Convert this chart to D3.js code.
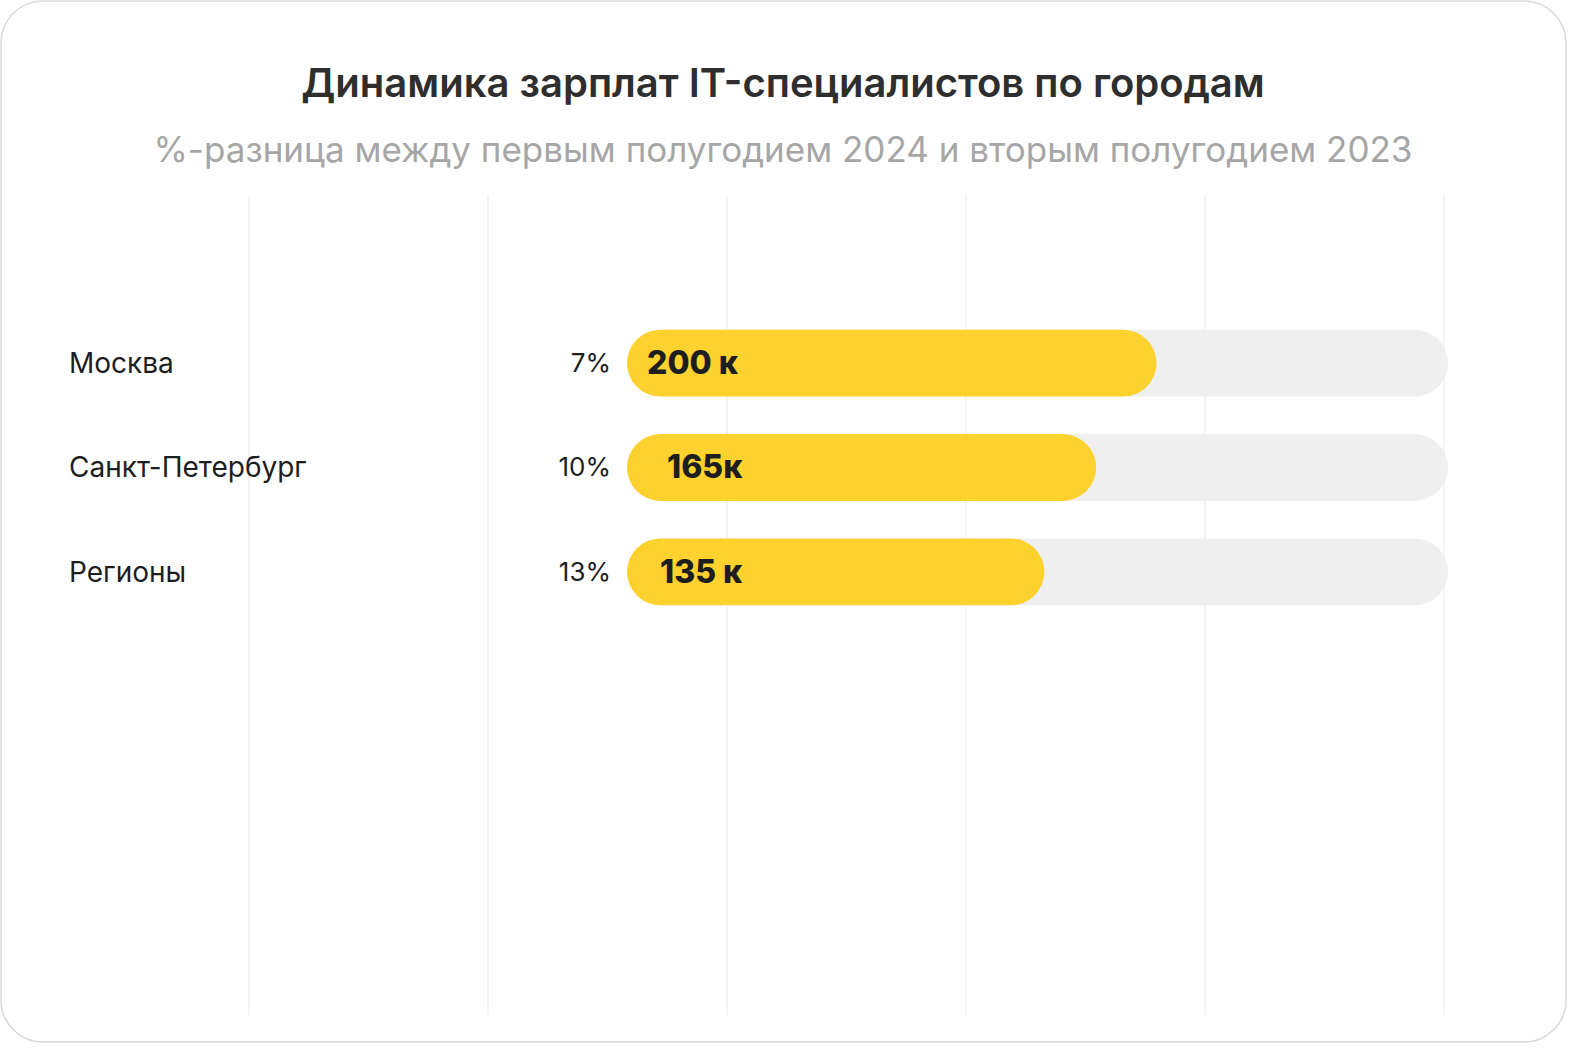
<!DOCTYPE html>
<html>
<head>
<meta charset="utf-8">
<script src="https://cdn.jsdelivr.net/npm/d3@7"></script>
<style>
  html, body { margin: 0; padding: 0; background: #fff; }
  svg { display: block; font-family: Inter, "Noto Sans", sans-serif; }
</style>
</head>
<body>
<svg id="chart" width="1575" height="1050"></svg>
<script>
const cities = ["Москва", "Санкт-Петербург", "Регионы"];
const salaries = [200, 165, 135];
const salaryLabels = ["200 к", "165к", "135 к"];
const growth = ["7%", "10%", "13%"];
const gridTicks = [0, 1, 2, 3, 4, 5];

const svg = d3.select("#chart");

// card frame
svg.append("rect")
  .attr("x", 1).attr("y", 1)
  .attr("width", 1565).attr("height", 1041)
  .attr("rx", 42)
  .attr("fill", "#fff")
  .attr("stroke", "#d9d9d9")
  .attr("stroke-width", 1.5);

svg.append("text")
  .attr("x", 783).attr("y", 97)
  .attr("text-anchor", "middle")
  .attr("font-size", 40).attr("font-weight", 600)
  .attr("fill", "#2e2e2e")
  .text("Динамика зарплат IT-специалистов по городам");

svg.append("text")
  .attr("x", 783).attr("y", 162)
  .attr("text-anchor", "middle")
  .attr("font-size", 35)
  .attr("fill", "#a6a6a6")
  .text("%-разница между первым полугодием 2024 и вторым полугодием 2023");

// vertical guide lines
const gx = d3.scaleLinear().domain([0, 5]).range([249, 1444]);
svg.append("g").selectAll("line")
  .data(gridTicks).join("line")
  .attr("x1", (d) => gx(d)).attr("x2", (d) => gx(d))
  .attr("y1", 195).attr("y2", 1015)
  .attr("stroke", "#f1f1f1").attr("stroke-width", 1.5);

const y = d3.scaleBand().domain(cities).range([311, 624]).paddingInner(0.36).paddingOuter(0.18);
// bar scale: track spans the full range, bars start at the track's left edge
const x = d3.scaleLinear().domain([-107, 369]).range([627, 1448]);
const bh = y.bandwidth();

const rows = svg.append("g").selectAll("g")
  .data(cities).join("g")
  .attr("transform", (d) => `translate(0,${y(d)})`);

rows.append("rect")
  .attr("x", x(-107)).attr("width", x(369) - x(-107))
  .attr("height", bh).attr("rx", bh / 2)
  .attr("fill", "#efefef");

rows.append("rect")
  .attr("x", x(-107)).attr("width", (d, i) => x(salaries[i]) - x(-107))
  .attr("height", bh).attr("rx", bh / 2)
  .attr("fill", "#fdd22e");

rows.append("text")
  .attr("x", (d, i) => [647, 667, 660][i]).attr("y", bh / 2 + 11)
  .attr("font-size", 32).attr("font-weight", 800)
  .attr("fill", "#1e1e1e")
  .text((d, i) => salaryLabels[i]);

rows.append("text")
  .attr("x", 69).attr("y", bh / 2 + 10)
  .attr("font-size", 28).attr("fill", "#1e1e1e")
  .text((d) => d);

rows.append("text")
  .attr("x", 611).attr("y", bh / 2 + 9)
  .attr("text-anchor", "end")
  .attr("font-size", 26).attr("fill", "#1e1e1e")
  .text((d, i) => growth[i]);
</script>
</body>
</html>
